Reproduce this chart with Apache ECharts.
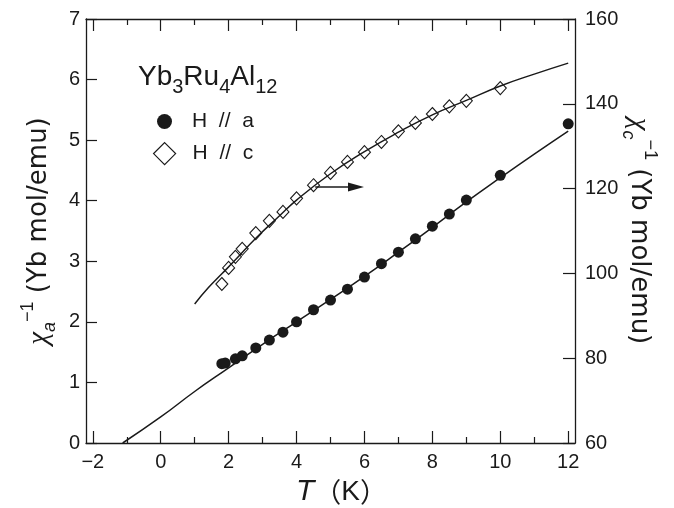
<!DOCTYPE html>
<html>
<head>
<meta charset="utf-8">
<script src="https://cdn.jsdelivr.net/npm/echarts@6/dist/echarts.min.js"></script>
<style>html,body{margin:0;padding:0;background:#fff}#c{width:674px;height:508px}</style>
</head>
<body>
<div id="c"></div>
<script>
// ---- data ----
var T_a = [1.8, 1.9, 2.2, 2.4, 2.8, 3.2, 3.6, 4.0, 4.5, 5.0, 5.5, 6.0, 6.5, 7.0, 7.5, 8.0, 8.5, 9.0, 10, 12];
var invChi_a = [1.31, 1.32, 1.39, 1.44, 1.57, 1.70, 1.83, 2.00, 2.20, 2.36, 2.54, 2.74, 2.96, 3.15, 3.37, 3.58, 3.78, 4.01, 4.42, 5.27];
var T_c = [1.8, 2.0, 2.2, 2.4, 2.8, 3.2, 3.6, 4.0, 4.5, 5.0, 5.5, 6.0, 6.5, 7.0, 7.5, 8.0, 8.5, 9.0, 10];
var invChi_c = [97.5, 101.3, 103.9, 105.8, 109.5, 112.4, 114.5, 117.7, 120.8, 123.7, 126.3, 128.6, 131.0, 133.5, 135.5, 137.6, 139.4, 140.7, 143.7];
var fitT_a = [-1.12, 0, 1, 2, 3, 4, 5, 6, 7, 8, 9, 10, 11, 12];
var fit_a = [0, 0.43, 0.85, 1.24, 1.63, 2.00, 2.37, 2.75, 3.15, 3.56, 3.98, 4.38, 4.77, 5.15];
var fitT_c = [1.0, 1.4, 1.8, 2.2, 2.8, 3.5, 4.0, 5.0, 6.0, 7.0, 8.0, 9.0, 10, 11, 12];
var fit_c = [92.8, 96.6, 99.9, 103.2, 108.3, 113.6, 117.3, 123.5, 128.7, 133.3, 137.4, 140.8, 144.2, 147.0, 149.6];
var xMajorTicks = [-2, 0, 2, 4, 6, 8, 10, 12];
var xMinorTicks = [-1, 1, 3, 5, 7, 9, 11];
var arrowFrom = [4.55, 120.4];
var arrowTo = [5.75, 120.4];
var nameA = 'H  //  a';
var nameC = 'H  //  c';

function zip(a, b) { return a.map(function (v, i) { return [v, b[i]]; }); }

var FONT = 'Liberation Sans';
var WIDE = 'DejaVu Sans';
var CJK = 'Noto Sans CJK JP';
var INK = '#1a1a1a';
var xRange = { min: -2.2, max: 12.2 };

function xAx(pos, ticks, len, labels, line) {
  return {
    type: 'value', position: pos, min: xRange.min, max: xRange.max,
    axisLine: { show: line, onZero: false, lineStyle: { color: INK, width: 1.3 } },
    axisTick: { show: true, inside: true, length: len, customValues: ticks, lineStyle: { color: INK, width: 1.2 } },
    axisLabel: labels ? {
      show: true, customValues: xMajorTicks, margin: 9, fontSize: 20, fontFamily: FONT, color: INK,
      formatter: function (v) { return v < 0 ? '\u2212' + Math.abs(v) : String(v); }
    } : { show: false },
    splitLine: { show: false }
  };
}

function yName(sub) {
  return '{chi|\u03C7}{sub|' + sub + '}{sup|\u22121}{t| (Yb mol/emu)}';
}
var yNameRich = {
  chi: { fontSize: 29, fontStyle: 'italic', fontFamily: 'Liberation Serif', color: INK, lineHeight: 40 },
  sub: { fontSize: 18, fontStyle: 'italic', fontFamily: FONT, color: INK, verticalAlign: 'bottom', lineHeight: 20 },
  sup: { fontSize: 18, fontFamily: FONT, color: INK, verticalAlign: 'top', lineHeight: 20 },
  t: { fontSize: 26, fontFamily: WIDE, color: INK }
};

var chart = echarts.init(document.getElementById('c'), null, { renderer: 'canvas' });
var xMain = xAx('bottom', xMajorTicks, 12, true, true);
xMain.name = '{it|T}{p|\uFF08}{k|K}{p|\uFF09}';
xMain.nameLocation = 'middle';
xMain.nameGap = 34;
xMain.nameTextStyle = { color: INK, padding: [0, 0, 0, 22], rich: {
  it: { fontSize: 30, fontStyle: 'italic', fontFamily: FONT, color: INK },
  p: { fontSize: 27, fontFamily: CJK, color: INK },
  k: { fontSize: 28, fontFamily: FONT, color: INK }
} };

chart.setOption({
  animation: false,
  backgroundColor: '#fff',
  grid: { left: 86, right: 99, top: 19, bottom: 65, containLabel: false, outerBoundsMode: 'none' },
  title: {
    text: '{m|Yb}{s|3}{m|Ru}{s|4}{m|Al}{s|12}',
    left: 133, top: 52,
    textStyle: { fontWeight: 'normal', rich: {
      m: { fontSize: 28, fontFamily: FONT, fontWeight: 'normal', color: INK, lineHeight: 40 },
      s: { fontSize: 20, fontFamily: FONT, fontWeight: 'normal', color: INK, verticalAlign: 'bottom', lineHeight: 22 }
    } }
  },
  legend: [
    { data: [{ name: nameA, icon: 'circle' }], left: 157, top: 111, itemWidth: 15, itemHeight: 15, padding: 0,
      selectedMode: false, textStyle: { fontSize: 21, fontFamily: FONT, color: INK, padding: [0, 0, 0, 15] } },
    { data: [{ name: nameC, icon: 'diamond', itemStyle: { color: '#fff', borderColor: INK, borderWidth: 1.2 } }],
      left: 153, top: 142, itemWidth: 22, itemHeight: 22, padding: 0,
      selectedMode: false, textStyle: { fontSize: 21, fontFamily: FONT, color: INK, padding: [0, 0, 0, 12] } }
  ],
  xAxis: [
    xMain,
    xAx('bottom', xMinorTicks, 6, false, false),
    xAx('top', xMajorTicks, 12, false, true),
    xAx('top', xMinorTicks, 6, false, false)
  ],
  yAxis: [
    {
      type: 'value', position: 'left', min: 0, max: 7, interval: 1,
      axisLine: { show: true, onZero: false, lineStyle: { color: INK, width: 1.3 } },
      axisTick: { show: true, inside: true, length: 11, lineStyle: { color: INK, width: 1.2 } },
      axisLabel: { fontSize: 20, fontFamily: FONT, color: INK, margin: 6 },
      splitLine: { show: false },
      name: yName('a'),
      nameLocation: 'middle', nameRotate: 90, nameGap: 27, nameMoveOverlap: false,
      nameTextStyle: { color: INK, rich: yNameRich }
    },
    {
      type: 'value', position: 'right', min: 60, max: 160, interval: 20,
      axisLine: { show: true, onZero: false, lineStyle: { color: INK, width: 1.3 } },
      axisTick: { show: true, inside: true, length: 12, lineStyle: { color: INK, width: 1.2 } },
      axisLabel: { fontSize: 20, fontFamily: FONT, color: INK, margin: 10 },
      splitLine: { show: false },
      name: yName('c'),
      nameLocation: 'middle', nameRotate: -90, nameGap: 44, nameMoveOverlap: false,
      nameTextStyle: { color: INK, rich: yNameRich }
    }
  ],
  series: [
    {
      name: 'fit a', type: 'line', xAxisIndex: 0, yAxisIndex: 0, data: zip(fitT_a, fit_a),
      smooth: true, showSymbol: false, lineStyle: { color: INK, width: 1.5 }, silent: true, z: 2
    },
    {
      name: 'fit c', type: 'line', xAxisIndex: 0, yAxisIndex: 1, data: zip(fitT_c, fit_c),
      smooth: true, showSymbol: false, lineStyle: { color: INK, width: 1.5 }, silent: true, z: 2,
      markLine: {
        silent: true, symbol: ['none', 'triangle'], symbolSize: [9, 16],
        lineStyle: { color: INK, width: 1.5, type: 'solid' }, label: { show: false },
        data: [[{ coord: arrowFrom }, { coord: arrowTo }]]
      }
    },
    {
      name: nameA, type: 'scatter', xAxisIndex: 0, yAxisIndex: 0, data: zip(T_a, invChi_a),
      symbol: 'circle', symbolSize: 11, itemStyle: { color: INK, opacity: 1 }, z: 3
    },
    {
      name: nameC, type: 'scatter', xAxisIndex: 0, yAxisIndex: 1, data: zip(T_c, invChi_c),
      symbol: 'diamond', symbolSize: [12, 13],
      itemStyle: { color: 'rgba(255,255,255,0)', borderColor: INK, borderWidth: 1.1, opacity: 1 }, z: 3
    }
  ]
});
</script>
</body>
</html>
